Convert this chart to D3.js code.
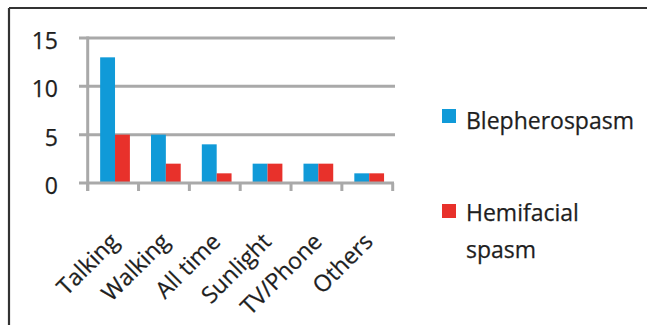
<!DOCTYPE html>
<html>
<head>
<meta charset="utf-8">
<script src="https://cdn.jsdelivr.net/npm/d3@7/dist/d3.min.js"></script>
<style>
  html, body { margin: 0; padding: 0; background: #ffffff; }
  svg { display: block; }
  text { font-family: "Open Sans", sans-serif; fill: #1e1e1e; stroke: #1e1e1e; stroke-width: 0.25px; }
</style>
</head>
<body>
<script>
// Triggers reported by patients, by condition
const categories = ["Talking", "Walking", "All time", "Sunlight", "TV/Phone", "Others"];
const seriesNames = ["Blepherospasm", "Hemifacial spasm"];
const blepherospasm = [13, 5, 4, 2, 2, 1];
const hemifacialSpasm = [5, 2, 1, 2, 2, 1];
const yTicks = [0, 5, 10, 15];
const colors = ["#109ad8", "#e8312b"];

const W = 647, H = 325;
const FONT = "23px";
const svg = d3.select("body").append("svg").attr("width", W).attr("height", H);

// outer frame: top and left edges
svg.append("line").attr("x1", 9).attr("x2", W).attr("y1", 8).attr("y2", 8)
  .attr("stroke", "#333").attr("stroke-width", 2.2);
svg.append("line").attr("x1", 9).attr("x2", 9).attr("y1", 8).attr("y2", H)
  .attr("stroke", "#333").attr("stroke-width", 2.2);

const x = d3.scaleBand().domain(categories).range([87.7, 392.7]).padding(0);
const y = d3.scaleLinear().domain([0, 15]).range([183, 38]);
const bw = x.bandwidth();
const sub = d3.scaleBand().domain(seriesNames).range([bw * 0.245, bw * 0.83]).padding(0);

const grey = "#a9a9a9";

// horizontal gridlines
svg.append("g").selectAll("line").data(yTicks.filter(d => d > 0)).join("line")
  .attr("x1", 79).attr("x2", 395)
  .attr("y1", d => y(d)).attr("y2", d => y(d))
  .attr("stroke", grey).attr("stroke-width", 3);

// bars
const rows = categories.map((c, i) => ({ c, vals: [blepherospasm[i], hemifacialSpasm[i]] }));
const groups = svg.append("g").selectAll("g").data(rows).join("g")
  .attr("transform", d => `translate(${x(d.c)},0)`);
groups.selectAll("rect").data(d => d.vals.map((v, k) => ({ v, k }))).join("rect")
  .attr("x", d => sub(seriesNames[d.k]))
  .attr("width", sub.bandwidth())
  .attr("y", d => y(d.v))
  .attr("height", d => y(0) - y(d.v))
  .attr("fill", d => colors[d.k]);

// value axis line
svg.append("line").attr("x1", 87.7).attr("x2", 87.7).attr("y1", y(15) - 1.5).attr("y2", y(0) + 8)
  .attr("stroke", grey).attr("stroke-width", 3);
// category axis line with ticks at band edges
svg.append("line").attr("x1", 79).attr("x2", 394).attr("y1", y(0)).attr("y2", y(0))
  .attr("stroke", grey).attr("stroke-width", 3);
const edges = categories.map(c => x(c)).concat([x.range()[1]]);
svg.append("g").selectAll("line").data(edges).join("line")
  .attr("x1", d => d).attr("x2", d => d)
  .attr("y1", y(0)).attr("y2", y(0) + 8)
  .attr("stroke", grey).attr("stroke-width", 3);

// value tick labels
svg.append("g").selectAll("text").data(yTicks).join("text")
  .attr("x", 58).attr("y", d => y(d) + 11)
  .attr("text-anchor", "end")
  .style("font-size", FONT)
  .text(d => d);

// category labels, rotated
svg.append("g").selectAll("text").data(categories).join("text")
  .attr("transform", d => `translate(${x(d) + bw / 2 + 7},${243}) rotate(-45)`)
  .attr("text-anchor", "end")
  .style("font-size", FONT)
  .text(d => d);

// legend
const leg = svg.append("g");
leg.append("rect").attr("x", 442).attr("y", 109).attr("width", 14).attr("height", 14).attr("fill", colors[0]);
leg.append("text").attr("x", 466).attr("y", 128.5).style("font-size", FONT).text("Blepherospasm");
leg.append("rect").attr("x", 442).attr("y", 204).attr("width", 14).attr("height", 14).attr("fill", colors[1]);
const t2 = leg.append("text").attr("x", 466).attr("y", 221).style("font-size", FONT);
t2.append("tspan").attr("x", 466).text("Hemifacial");
t2.append("tspan").attr("x", 466).attr("dy", 37).text("spasm");
</script>
</body>
</html>
